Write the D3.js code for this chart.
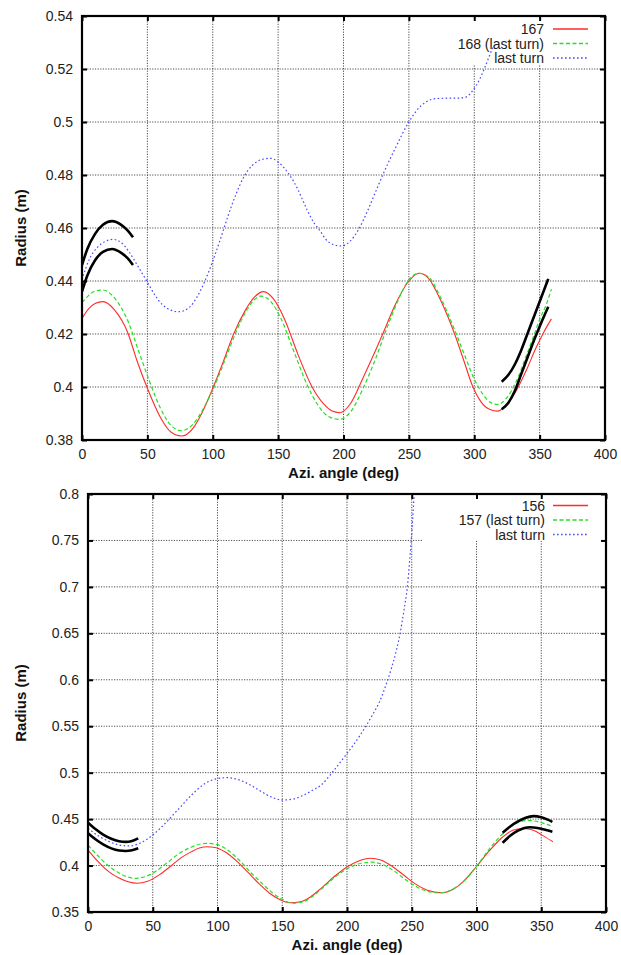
<!DOCTYPE html>
<html><head><meta charset="utf-8">
<script src="https://cdn.jsdelivr.net/npm/d3@7"></script>
<style>body{margin:0;background:#fff}svg{display:block}</style>
</head><body><svg id="c" width="621" height="955"></svg>
<script>
// ---------------- DATA ----------------
const xTicks = [0,50,100,150,200,250,300,350,400];
const xTickLabels = ["0","50","100","150","200","250","300","350","400"];

// Top panel
const topYTicks = [0.38,0.40,0.42,0.44,0.46,0.48,0.50,0.52,0.54];
const topYLabels = ["0.38","0.4","0.42","0.44","0.46","0.48","0.5","0.52","0.54"];
const topLegend = ["167","168 (last turn)","last turn"];
const top167 = [[0,0.4259],[5,0.4295],[10,0.4315],[16,0.4322],[25,0.4290],[35,0.4205],[42,0.4100],[50,0.3995],[60,0.3885],[68,0.3830],[76,0.3815],[85,0.3845],[92,0.3905],[100,0.3995],[108,0.4095],[116,0.4200],[125,0.4290],[132,0.4340],[139,0.4360],[146,0.4335],[155,0.4255],[165,0.4125],[176,0.4000],[185,0.3935],[191,0.3910],[197,0.3903],[205,0.3935],[215,0.4035],[222,0.4110],[230,0.4200],[240,0.4315],[250,0.4400],[258,0.4429],[265,0.4410],[275,0.4320],[285,0.4200],[292,0.4100],[299,0.4000],[305,0.3945],[312,0.3915],[318,0.3909],[325,0.3935],[332,0.3985],[340,0.4065],[347,0.4145],[353,0.4205],[359,0.4257]];
const top168 = [[0,0.4318],[5,0.4345],[10,0.4362],[16,0.4366],[25,0.4335],[35,0.4250],[43,0.4140],[51,0.4030],[60,0.3920],[68,0.3855],[76,0.3835],[85,0.3860],[93,0.3920],[101,0.4000],[110,0.4110],[118,0.4210],[126,0.4290],[132,0.4330],[137,0.4343],[144,0.4325],[152,0.4260],[162,0.4135],[172,0.4010],[180,0.3935],[188,0.3890],[197,0.3878],[206,0.3910],[215,0.3995],[224,0.4100],[233,0.4220],[242,0.4330],[250,0.4405],[258,0.4429],[265,0.4415],[275,0.4330],[285,0.4215],[293,0.4115],[300,0.4030],[307,0.3970],[313,0.3940],[318,0.3934],[325,0.3960],[332,0.4020],[340,0.4120],[346,0.4200],[350,0.4255],[355,0.4310],[359,0.4369]];
const topLast = [[0,0.4404],[3,0.4450],[6,0.4486],[12,0.4528],[18,0.4550],[24,0.4557],[30,0.4545],[36,0.4510],[42,0.4462],[49.5,0.4400],[56,0.4345],[62,0.4308],[68,0.4290],[74,0.4284],[82,0.4300],[88,0.4340],[94,0.4400],[100,0.4475],[106,0.4560],[112,0.4650],[118,0.4730],[124,0.4795],[130,0.4835],[137,0.4858],[144,0.4863],[151,0.4845],[158,0.4805],[162,0.4775],[167,0.4725],[172,0.4670],[178,0.4615],[182,0.4590],[186,0.4560],[192,0.4538],[198.6,0.4532],[205,0.4550],[211,0.4590],[218,0.4660],[224,0.4730],[230,0.4800],[240,0.4905],[250,0.5000],[258,0.5055],[264,0.5078],[270,0.5088],[280,0.5090],[288,0.5090],[294,0.5095],[299,0.5120],[304,0.5160],[308,0.5205],[314,0.5280]];
const topBlackA = [[0,0.4460],[4,0.4520],[10,0.4578],[16,0.4612],[23,0.4626],[30,0.4612],[35,0.4590],[39,0.4565]];
const topBlackB = [[0,0.4360],[4,0.4420],[10,0.4478],[16,0.4510],[23,0.4521],[30,0.4506],[35,0.4485],[39,0.4460]];
const topBlackC = [[321,0.4020],[326,0.4045],[331,0.4085],[336,0.4140],[341,0.4205],[346,0.4270],[351,0.4335],[356.6,0.4408]];
const topBlackD = [[321,0.3916],[326,0.3940],[331,0.3985],[336,0.4050],[341,0.4115],[346,0.4180],[351,0.4240],[356.6,0.4303]];

// Bottom panel
const botYTicks = [0.35,0.40,0.45,0.50,0.55,0.60,0.65,0.70,0.75,0.80];
const botYLabels = ["0.35","0.4","0.45","0.5","0.55","0.6","0.65","0.7","0.75","0.8"];
const botLegend = ["156","157 (last turn)","last turn"];
const bot156 = [[0,0.4167],[8,0.4040],[16,0.3935],[24,0.3865],[31,0.3825],[38,0.3809],[46,0.3830],[55,0.3900],[64,0.3995],[72,0.4085],[80,0.4150],[86,0.4188],[92,0.4203],[98,0.4195],[106,0.4145],[115,0.4045],[124,0.3920],[132,0.3805],[140,0.3705],[148,0.3635],[156,0.3600],[164,0.3610],[172,0.3665],[180,0.3755],[190,0.3880],[200,0.3985],[209,0.4050],[218,0.4078],[226,0.4060],[235,0.3990],[244,0.3895],[253,0.3800],[262,0.3735],[273,0.3708],[282,0.3745],[290,0.3830],[300,0.3990],[310,0.4160],[320,0.4305],[328,0.4380],[336,0.4399],[344,0.4380],[351,0.4325],[359,0.4256]];
const bot157 = [[0,0.4220],[8,0.4100],[16,0.3995],[24,0.3920],[30,0.3880],[36,0.3863],[44,0.3880],[53,0.3945],[62,0.4040],[71,0.4135],[80,0.4200],[87,0.4232],[93,0.4238],[100,0.4225],[108,0.4165],[117,0.4055],[126,0.3920],[135,0.3800],[143,0.3700],[151,0.3630],[158,0.3594],[165,0.3605],[173,0.3665],[182,0.3770],[192,0.3890],[202,0.3980],[211,0.4025],[219,0.4036],[227,0.4015],[236,0.3945],[245,0.3850],[254,0.3770],[263,0.3720],[272,0.3706],[281,0.3740],[290,0.3830],[300,0.3990],[310,0.4180],[320,0.4340],[330,0.4450],[340,0.4485],[348,0.4470],[354,0.4445],[359,0.4420]];
const botLast = [[0,0.4400],[8,0.4320],[16,0.4260],[24,0.4222],[32,0.4211],[40,0.4240],[50,0.4329],[60,0.4460],[70,0.4610],[80,0.4760],[90,0.4880],[98,0.4930],[107,0.4946],[116,0.4925],[125,0.4870],[134,0.4795],[142,0.4735],[150,0.4706],[158,0.4715],[166,0.4755],[174,0.4815],[180,0.4867],[189,0.5010],[200,0.5207],[205,0.5300],[210,0.5400],[215,0.5510],[220,0.5630],[225,0.5760],[230,0.5940],[234,0.6110],[238,0.6310],[241,0.6500],[244,0.6750],[246.6,0.7000],[248.2,0.7250],[249.6,0.7500],[250.8,0.7750],[251.9,0.8000],[253,0.8260]];
const botBlackA = [[0,0.4462],[6,0.4390],[12,0.4330],[18,0.4288],[24,0.4262],[29,0.4255],[34,0.4265],[38.8,0.4292]];
const botBlackB = [[0,0.4347],[6,0.4280],[12,0.4225],[18,0.4185],[24,0.4162],[29,0.4157],[34,0.4165],[38.8,0.4186]];
const botBlackC = [[320.2,0.4353],[326,0.4420],[332,0.4475],[338,0.4515],[344,0.4532],[350,0.4520],[355,0.4495],[358.6,0.4471]];
const botBlackD = [[320.2,0.4245],[326,0.4320],[332,0.4375],[337,0.4405],[341.3,0.4412],[347,0.4405],[353,0.4385],[358.6,0.4364]];

// ---------------- DRAW ----------------
const svg = d3.select("#c");
const FONT = "'Liberation Sans', Arial, sans-serif";
const styles = {
  red:   {stroke:"#ff2a2a", width:1.1, dash:null},
  green: {stroke:"#22e022", width:1.2, dash:"4,2.5"},
  blue:  {stroke:"#4848ff", width:1.2, dash:"1.6,2.4"},
  black: {stroke:"#000", width:2.6, dash:null}
};

function panel(id, box, yDomain, yTicks, yLabels, series, blacks, legendNames, legendBox, legendRows) {
  const x = d3.scaleLinear().domain([0,400]).range([box.l, box.r]);
  const y = d3.scaleLinear().domain(yDomain).range([box.b, box.t]);
  const g = svg.append("g");

  // grid
  const grid = g.append("g").attr("stroke","#3a3a3a").attr("stroke-width",0.9).attr("stroke-dasharray","1.2,1.4");
  grid.selectAll("line.v").data(xTicks.slice(1,-1)).join("line")
    .attr("x1",d=>x(d)).attr("x2",d=>x(d)).attr("y1",box.t).attr("y2",box.b);
  grid.selectAll("line.h").data(yTicks.slice(1,-1)).join("line")
    .attr("y1",d=>y(d)).attr("y2",d=>y(d)).attr("x1",box.l).attr("x2",box.r);

  // legend background (opaque key)
  g.append("rect").attr("x",legendBox.x).attr("y",box.t+1).attr("width",box.r-legendBox.x-1)
    .attr("height",legendBox.b-box.t-1).attr("fill","#fff");

  // clip
  g.append("clipPath").attr("id",id).append("rect")
    .attr("x",box.l).attr("y",box.t).attr("width",box.r-box.l).attr("height",box.b-box.t);
  const line = d3.line().x(d=>x(d[0])).y(d=>y(d[1])).curve(d3.curveMonotoneX);
  const dg = g.append("g").attr("clip-path",`url(#${id})`);
  series.forEach(s=>{
    const st = styles[s.style];
    dg.append("path").attr("d",line(s.data)).attr("fill","none")
      .attr("stroke",st.stroke).attr("stroke-width",st.width)
      .attr("stroke-dasharray",st.dash);
  });
  blacks.forEach(b=>{
    dg.append("path").attr("d",line(b)).attr("fill","none")
      .attr("stroke","#000").attr("stroke-width",2.6).attr("stroke-linecap","butt");
  });

  // legend
  legendNames.forEach((name,i)=>{
    const st = styles[series[i].style];
    const cy = legendRows[i];
    g.append("text").attr("x",legendBox.tx).attr("y",cy+5).attr("text-anchor","end")
      .attr("font-family",FONT).attr("font-size",14).attr("fill","#222").text(name);
    g.append("line").attr("x1",553).attr("x2",588).attr("y1",cy).attr("y2",cy)
      .attr("stroke",st.stroke).attr("stroke-width",st.width+0.3).attr("stroke-dasharray",st.dash);
  });

  // axes
  const tickLen = 5;
  const ax = g.append("g").attr("font-family",FONT);
  const xb = ax.append("g").attr("transform",`translate(0,${box.b})`)
    .call(d3.axisBottom(x).tickValues(xTicks).tickFormat((d,i)=>xTickLabels[i]).tickSize(-tickLen).tickPadding(9));
  const xt = ax.append("g").attr("transform",`translate(0,${box.t})`)
    .call(d3.axisTop(x).tickValues(xTicks).tickFormat("").tickSize(-tickLen));
  const yl = ax.append("g").attr("transform",`translate(${box.l},0)`)
    .call(d3.axisLeft(y).tickValues(yTicks).tickFormat((d,i)=>yLabels[i]).tickSize(-tickLen).tickPadding(9));
  const yr = ax.append("g").attr("transform",`translate(${box.r},0)`)
    .call(d3.axisRight(y).tickValues(yTicks).tickFormat("").tickSize(-tickLen));
  [xb,xt,yl,yr].forEach(a=>{
    a.select(".domain").remove();
    a.selectAll(".tick line").attr("stroke","#000").attr("stroke-width",2);
    a.selectAll(".tick text").attr("font-size",14).attr("fill","#222").attr("font-family",FONT);
  });

  // border
  g.append("rect").attr("x",box.l).attr("y",box.t).attr("width",box.r-box.l).attr("height",box.b-box.t)
    .attr("fill","none").attr("stroke","#000").attr("stroke-width",2.2);

  // axis titles
  g.append("text").attr("x",(box.l+box.r)/2).attr("y",box.b+38).attr("text-anchor","middle")
    .attr("font-family",FONT).attr("font-weight","bold").attr("font-size",15).attr("fill","#111")
    .text("Azi. angle (deg)");
  g.append("text").attr("transform",`translate(26,${(box.t+box.b)/2}) rotate(-90)`).attr("text-anchor","middle")
    .attr("font-family",FONT).attr("font-weight","bold").attr("font-size",15).attr("fill","#111")
    .text("Radius (m)");
}

panel("clipTop", {l:82,r:605,t:16,b:440}, [0.38,0.54], topYTicks, topYLabels,
  [{data:top167,style:"red"},{data:top168,style:"green"},{data:topLast,style:"blue"}],
  [topBlackA,topBlackB,topBlackC,topBlackD], topLegend, {x:420,b:64,tx:544}, [29,43.5,58]);

panel("clipBot", {l:88,r:606,t:494,b:912}, [0.35,0.80], botYTicks, botYLabels,
  [{data:bot156,style:"red"},{data:bot157,style:"green"},{data:botLast,style:"blue"}],
  [botBlackA,botBlackB,botBlackC,botBlackD], botLegend, {x:422,b:541,tx:545}, [505.5,520,534.5]);
</script>
</body></html>
